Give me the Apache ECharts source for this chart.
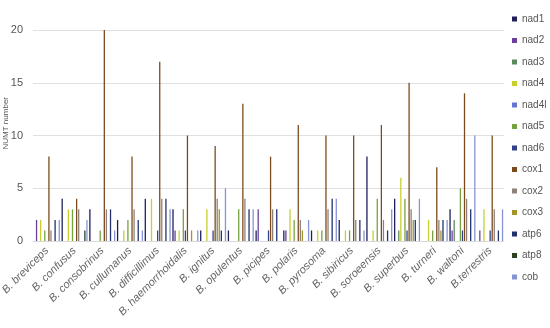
<!DOCTYPE html>
<html><head><meta charset="utf-8">
<script src="https://cdn.jsdelivr.net/npm/echarts@6/dist/echarts.min.js"></script>
<style>html,body{margin:0;padding:0;background:#fff}#c{width:550px;height:328px}</style>
</head><body><div id="c"></div>
<script>
const categories = ['B. breviceps','B. confusus','B. consobrinus','B. cullumanus','B. difficillimus','B. haemorrhoidalis','B. ignitus','B. opulentus','B. picipes','B. polaris','B. pyrosoma','B. sibiricus','B. soroeensis','B. superbus','B. turneri','B. waltoni','B.terrestris'];
const seriesNames = ['nad1','nad2','nad3','nad4','nad4l','nad5','nad6','cox1','cox2','cox3','atp6','atp8','cob'];
const nad1  = [0,4,3,2,4,3,1,1,1,1,1,2,8,4,0,3,0];
const nad2  = [2,0,0,0,0,1,0,0,3,1,0,0,0,0,0,1,1];
const nad3  = [0,0,0,0,0,0,0,0,0,0,0,0,0,1,0,2,0];
const nad4  = [2,3,0,1,4,1,3,0,0,3,1,1,1,6,2,0,3];
const nad4l = [0,0,0,0,0,0,0,0,0,0,0,0,0,0,0,0,0];
const nad5  = [1,3,1,2,0,3,0,3,0,2,1,1,4,4,1,5,0];
const nad6  = [0,0,0,0,1,1,1,0,1,0,0,0,0,1,0,1,1];
const cox1  = [8,4,20,8,17,10,9,13,8,11,10,10,11,15,7,14,10];
const cox2  = [1,3,3,3,4,0,4,4,3,2,3,2,2,3,2,4,3];
const cox3  = [0,0,0,0,0,1,3,0,0,1,0,0,0,2,1,0,0];
const atp6  = [2,0,3,2,4,0,1,3,3,0,4,2,1,2,2,3,1];
const atp8  = [0,1,0,0,0,0,0,0,0,0,0,0,0,0,0,0,0];
const cob   = [2,2,1,1,3,1,5,3,0,2,4,1,3,4,2,10,3];
const yTicks = [0,5,10,15,20];
const yTitle = 'NUMT number';

const dataList = [nad1,nad2,nad3,nad4,nad4l,nad5,nad6,cox1,cox2,cox3,atp6,atp8,cob];
const colors = ['#1e1e5c','#6a3f9e','#5b8a5e','#c9cf2a','#6474d2','#76a23e','#33418a','#7b4a1c','#8d8179','#a39426','#22306e','#2d4223','#8494d4'];

const chart = echarts.init(document.getElementById('c'), null, {renderer:'canvas'});
chart.setOption({
  animation:false,
  color: colors,
  grid:{left:33,right:46,top:30,bottom:87,containLabel:false,outerBoundsMode:'none'},
  legend:{
    orient:'vertical', left:507, top:9, itemWidth:5, itemHeight:5, itemGap:11.5,
    icon:'rect', itemStyle:{borderWidth:0},
    textStyle:{color:'#555',fontSize:10,fontFamily:'Liberation Sans'},
    data: seriesNames
  },
  graphic:[{
    type:'text', left:2, top:97, rotation:Math.PI/2,
    style:{text:yTitle, fill:'#555', font:'8px "Liberation Sans"'}
  }],
  xAxis:{
    type:'category', data:categories,
    axisTick:{show:false},
    axisLine:{show:true,lineStyle:{color:'#d9d9d9'}},
    axisLabel:{rotate:45,interval:0,fontStyle:'italic',color:'#666',fontSize:11,fontFamily:'Liberation Sans',margin:8}
  },
  yAxis:{
    type:'value', min:yTicks[0], max:yTicks[yTicks.length-1], interval:5,
    axisLabel:{color:'#555',fontSize:11,fontFamily:'Liberation Sans',margin:10},
    splitLine:{lineStyle:{color:'#e0e0e0'}},
    axisLine:{show:false}, axisTick:{show:false}
  },
  series: seriesNames.map((n,i)=>({
    name:n, type:'bar', data:dataList[i],
    barCategoryGap:'6%', barGap:'60%'
  }))
});
</script></body></html>
